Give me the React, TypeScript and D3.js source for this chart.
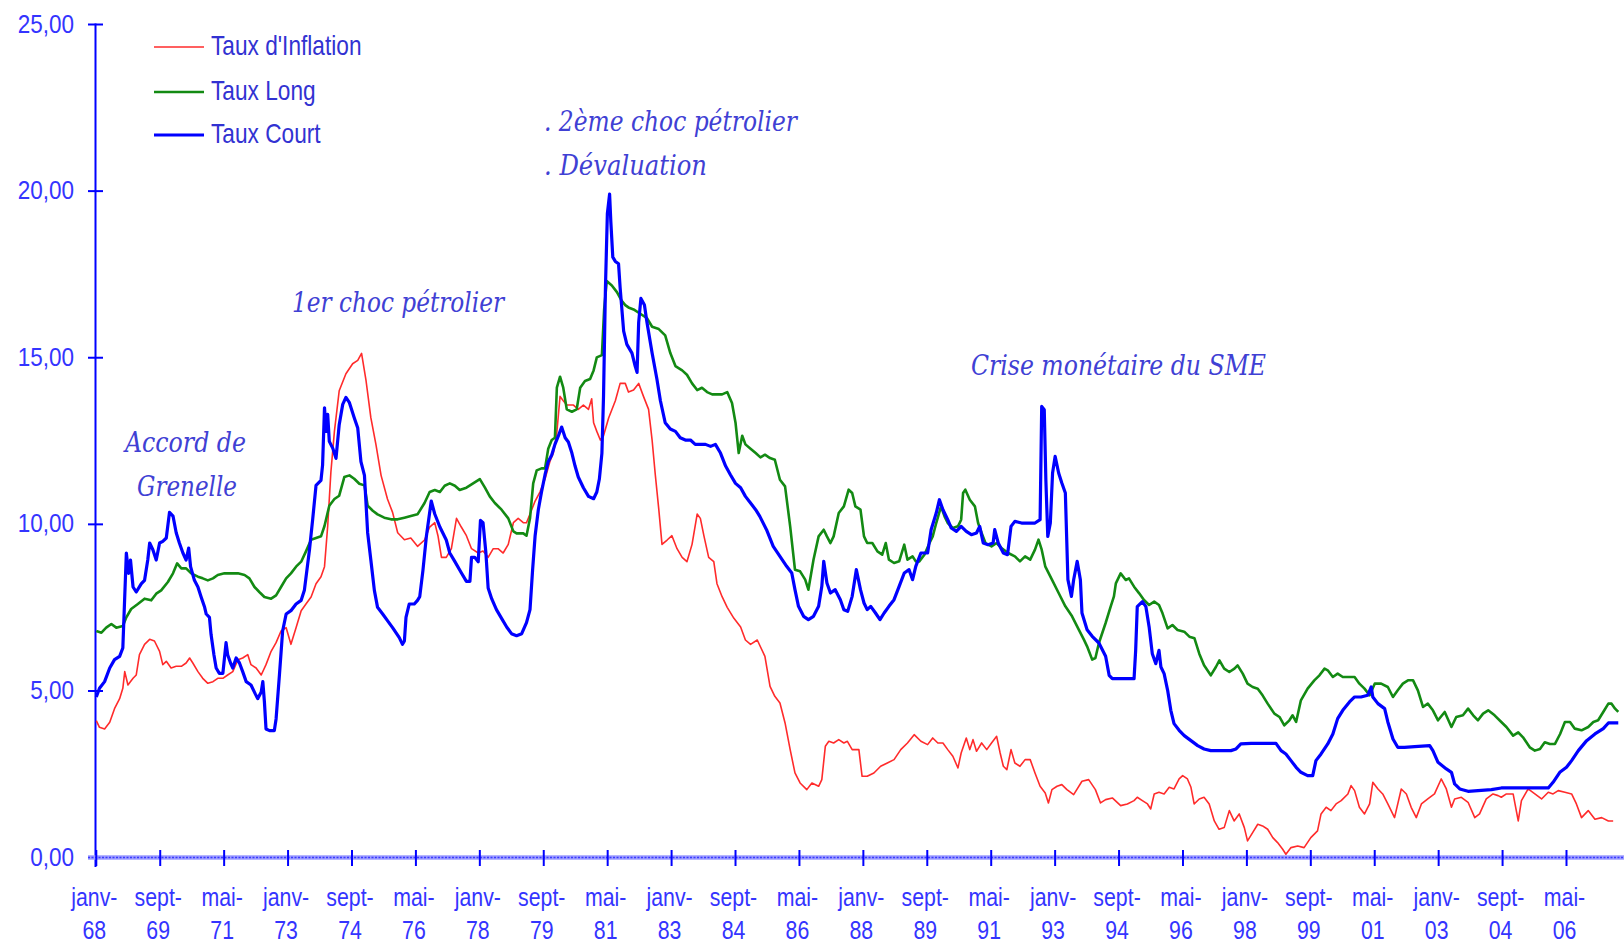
import React from "react";
import * as d3 from "d3";

// x = months since janv. 1968, y = rate in %
const inflationData: [number, number][] = [
  [0,4.11],[1,3.91],[2.6,3.86],[4.2,4.06],[5.7,4.47],[7.3,4.77],[8.3,5.08],[8.9,5.58],[9.9,5.18],[11.5,5.38],[12.5,5.48],[13.5,6.09],[15.1,6.4],[16.7,6.55],[18.2,6.5],[19.8,6.19],[20.8,5.79],[21.9,5.89],[23.4,5.69],[25,5.74],[26.6,5.74],[28.1,5.84],[29.2,5.99],[30.2,5.84],[31.8,5.58],[33.3,5.38],[34.9,5.23],[36.5,5.28],[38,5.38],[39.6,5.38],[41.1,5.48],[42.7,5.58],[44.3,5.94],[45.8,5.99],[47.4,6.09],[48.4,5.79],[50,5.69],[51.6,5.48],[53.1,5.79],[54.7,6.19],[56.25,6.45],[57.8,6.8],[59.4,6.9],[60.9,6.4],[62.5,6.9],[64.1,7.41],[65.6,7.61],[67.2,7.82],[68.75,8.22],[70.3,8.43],[71.4,8.73],[72.4,9.95],[73.4,11.57],[74.5,12.79],[76,14.01],[78.1,14.52],[80.2,14.82],[81.8,14.92],[83,15.13],[84.4,14.31],[85.9,13.2],[87.5,12.39],[89.1,11.47],[91.1,10.76],[92.7,10.36],[94.3,9.75],[96.4,9.54],[98.4,9.59],[100.5,9.34],
  [101.2,9.4],[102.7,9.53],[104.3,9.92],[105.9,10.05],[106.9,9.66],[108,9.01],[109.5,9.01],[111.1,9.27],[112.7,10.18],[114.2,9.92],[115.8,9.66],[117.4,9.27],[119.5,9.14],[121,9.2],[122.6,9.01],[124.2,9.27],[125.7,9.27],[127.3,9.14],[128.9,9.4],[130.5,10.05],[132,10.18],[133.6,10.05],[134.6,10.05],[135.7,10.31],[137.3,10.7],[138.8,10.97],[140.4,11.36],[141.9,11.88],[143,12.14],[144,12.66],[145.1,13.84],[146.1,13.71],[147.2,13.58],[149.3,13.58],[150.8,13.45],[152.4,13.58],[154,13.45],[155,13.77],[155.6,13.05],[156.6,12.79],[157.7,12.53],[158.7,12.66],[160.3,13.19],[162.4,13.71],[163.9,14.23],[165.5,14.23],[166.5,13.97],[168.1,14.03],[169.7,14.23],[171.2,13.84],[172.8,13.45],[173.9,12.53],[174.9,11.49],[176,10.44],[177,9.4],[178.6,9.53],[180.1,9.66],[181.7,9.27],[183.3,9.01],[184.8,8.88],[186.4,9.4],[188,10.31],[189,10.18],[190.1,9.66],[191.6,9.01],[193.2,8.88],[194.2,8.22],[195.8,7.83],[197.4,7.51],[199.5,7.18],[201.6,6.92],[203.1,6.53],[204.7,6.4],[206.8,6.53],
  [209.2,6.04],[210.8,5.14],[212.3,4.84],[213.9,4.64],[215.5,4.04],[217.1,3.24],[218.6,2.54],[220.2,2.24],[222.3,2.04],[223.9,2.24],[226,2.14],[227,2.34],[228.1,3.34],[229.2,3.49],[230.7,3.44],[232.3,3.54],[233.9,3.44],[235,3.49],[236.5,3.24],[238.6,3.24],[239.6,2.44],[241.2,2.44],[243.3,2.54],[245.4,2.74],[247.5,2.84],[249.6,2.94],[251.7,3.24],[253.8,3.44],[255.9,3.69],[258,3.49],[260.1,3.39],[261.7,3.59],[263.3,3.44],[264.9,3.44],[266.4,3.24],[268,3.04],[269.6,2.69],[270.6,3.14],[272.2,3.59],[273.3,3.24],[274.3,3.54],[275.4,3.19],[277,3.44],[278.6,3.24],[280.1,3.44],[281.7,3.64],[282.8,3.14],[283.8,2.74],[284.9,2.64],[286.2,3.24],[287.4,2.84],[289,2.74],[290.6,2.94],[292.2,2.94],[293.7,2.54],[295.3,2.14],[296.9,1.94],[297.9,1.64],[299,2.04],[300.6,2.14],[302.1,2.19],[303.7,2.04],[305.8,1.89],[308.4,2.29],[310.5,2.34],[312.6,2.04],[314.2,1.64],[315.8,1.74],[317.9,1.79],
  [320.5,1.56],[322.6,1.61],[324.7,1.71],[325.7,1.81],[327.3,1.71],[328.9,1.61],[329.9,1.46],[331,1.91],[332.5,1.96],[334.1,1.91],[335.7,2.11],[337.2,2.06],[338.8,2.36],[339.9,2.46],[341.4,2.36],[342.5,2.11],[343.5,1.61],[345.1,1.76],[346.6,1.81],[348.2,1.61],[349.8,1.1],[351.3,0.85],[352.9,0.9],[354.5,1.41],[356,1.1],[357.6,1.31],[359.2,0.9],[360.2,0.5],[361.8,0.75],[363.4,1.0],[364.9,0.95],[366.5,0.85],[368.1,0.6],[369.6,0.45],[371.2,0.25],[372.2,0.1],[373.8,0.3],[375.9,0.35],[377.9,0.3],[380,0.6],[382.1,0.8],[383.2,1.31],[384.8,1.51],[386.3,1.41],[387.9,1.61],[389.5,1.71],[391.6,1.91],[392.6,2.16],[393.7,2.01],[395.2,1.51],[396.8,1.31],[398.4,1.61],[399.4,2.26],[401,2.06],[402.5,1.91],[404.1,1.61],[406.2,1.2],[408.3,2.06],[409.9,1.91],[411.4,1.51],[413,1.2],[414.6,1.61],[416.6,1.76],[418.7,1.91],[420.8,2.36],[422.4,2.06],[424,1.51],[425,1.76],[427.1,1.81],[429.2,1.66],[431.3,1.2],[432.8,1.31],[434.9,1.76],[437,1.91],[438.6,1.86],[439.6,1.81],[441.2,1.91],[443.3,1.91],[444.9,1.1],[445.9,1.71],[448,2.06],[450.1,1.91],[452.2,1.76],[454.3,1.96],[455.8,1.91],[457.4,2.01],[459.5,1.96],[461.6,1.91],[463.1,1.61],[464.7,1.2],[466.8,1.41],[468.9,1.15],[471,1.2],[473.1,1.1],[474.6,1.1]
];

const tauxLongData: [number, number][] = [
  [0,6.8],[1.6,6.75],[3.1,6.9],[4.7,7.01],[6.25,6.9],[8.3,6.95],[9.4,7.21],[10.9,7.46],[13,7.61],[15.1,7.77],[17.2,7.72],[18.75,7.92],[20.3,8.02],[22.4,8.27],[24,8.53],[25.3,8.83],[26.6,8.68],[28.1,8.68],[29.7,8.53],[31.8,8.43],[33.3,8.38],[34.9,8.32],[36.5,8.38],[38,8.48],[40.1,8.53],[42.2,8.53],[44.3,8.53],[46.4,8.48],[47.9,8.38],[49.5,8.12],[51,7.97],[52.6,7.82],[54.7,7.77],[56.25,7.87],[57.8,8.12],[59.4,8.38],[60.9,8.53],[62.5,8.73],[64.1,8.88],[65.6,9.19],[67.2,9.54],[68.75,9.59],[70.3,9.64],[71.4,9.95],[72.9,10.56],[74.5,10.76],[76,10.86],[77.6,11.42],[79.2,11.47],[80.7,11.37],[82.3,11.22],[83.9,11.17],[84.9,10.56],[86.5,10.41],[88,10.3],[90.1,10.2],[92.2,10.15],[94.3,10.15],[96.4,10.2],[98.4,10.25],[100.5,10.3],
  [102.7,10.64],[104.3,10.97],[105.9,11.03],[107.5,10.97],[109,11.16],[110.6,11.23],[112.2,11.16],[113.7,11.03],[115.8,11.1],[117.9,11.23],[120,11.36],[121.6,11.1],[123.1,10.84],[124.7,10.64],[126.8,10.44],[128.9,10.18],[130.5,9.79],[131.5,9.73],[133.6,9.73],[134.6,9.66],[135.7,10.18],[136.7,11.23],[137.8,11.62],[139.3,11.68],[140.4,11.68],[141.4,12.27],[142.5,12.53],[143.5,12.6],[144.1,14.1],[145.1,14.43],[146.1,14.1],[147.2,13.45],[148.8,13.38],[150.3,13.45],[151.4,14.1],[152.9,14.3],[154.5,14.36],[155.6,14.62],[156.6,15.01],[158.2,15.08],[158.9,16.45],[159.7,17.3],[161.3,17.17],[162.9,16.97],[164.4,16.71],[165.5,16.58],[166.5,16.51],[168.1,16.45],[170.2,16.32],[172.3,16.19],[173.9,15.93],[176,15.86],[178,15.67],[179.6,15.14],[181.2,14.75],[183.3,14.62],[184.8,14.49],[186.4,14.23],[188,14.03],[189.5,14.1],[191.1,13.97],[192.7,13.9],[194.2,13.9],[195.8,13.9],[197.4,13.97],[198.9,13.64],[200,13.05],[201,12.14],[202.1,12.66],[203.1,12.4],[204.7,12.27],[206.3,12.14],[207.8,12.01],
  [209.2,12.09],[210.8,11.99],[212.3,11.94],[213.9,11.34],[215.5,11.14],[217.1,9.94],[218.6,8.64],[220.2,8.59],[221.8,8.34],[222.8,8.04],[224.4,8.94],[226,9.64],[227.6,9.84],[228.6,9.64],[229.7,9.44],[230.7,9.64],[232.3,10.34],[233.9,10.54],[235.4,11.04],[236.5,10.94],[237.5,10.54],[239.1,10.44],[240.2,9.64],[241.2,9.44],[242.8,9.44],[244.4,9.19],[245.9,9.09],[247,9.44],[248,8.94],[249.6,8.84],[251.2,8.89],[252.8,9.39],[253.8,8.94],[255.4,9.04],[256.4,8.89],[257.5,8.89],[259.1,9.09],[260.7,9.44],[261.7,9.64],[262.8,10.04],[264.3,10.54],[265.4,10.24],[266.4,10.04],[268,9.89],[269.6,9.94],[270.6,10.14],[271.2,10.94],[271.9,11.04],[273.3,10.74],[274.9,10.54],[275.9,10.04],[277,9.74],[278.2,9.44],[280.1,9.34],[281.7,9.44],[283.2,9.29],[285.3,9.14],[287.4,9.04],[289,8.89],[290.6,9.04],[292.2,8.94],[293.7,9.24],[294.8,9.54],[295.8,9.24],[296.9,8.74],[299,8.34],[301.1,7.94],[303.2,7.54],[305.3,7.24],[307.4,6.84],[309,6.54],[310,6.34],[311.6,5.94],[312.6,5.99],[313.7,6.44],[315.8,7.04],[317.4,7.54],[318.4,7.84],
  [319,8.23],[320.5,8.53],[322.1,8.33],[323.1,8.38],[324.7,8.13],[326.3,7.93],[327.8,7.73],[329.4,7.58],[331,7.68],[332.5,7.58],[333.6,7.33],[335.2,6.88],[336.7,6.98],[338.3,6.83],[340.4,6.78],[342,6.63],[343.6,6.58],[345.1,6.12],[346.6,5.77],[348.7,5.47],[350.3,5.72],[351.4,5.92],[352.9,5.67],[354.5,5.57],[356.1,5.67],[357.1,5.77],[358.7,5.52],[360.2,5.22],[361.8,5.12],[363.4,5.07],[364.9,4.87],[366.5,4.62],[368.6,4.32],[370.2,4.22],[371.7,3.97],[373.3,4.12],[374.3,4.27],[375.4,4.07],[376.9,4.72],[379,5.07],[381.1,5.32],[382.7,5.47],[384.3,5.67],[385.3,5.62],[386.9,5.42],[388.4,5.52],[390,5.42],[392.1,5.42],[393.7,5.42],[395.2,5.22],[396.8,5.07],[398.4,4.87],[400,5.22],[402,5.22],[404.1,5.12],[405.7,4.82],[407.2,5.02],[408.8,5.22],[410.4,5.32],[412,5.32],[413.5,5.02],[415.1,4.52],[416.6,4.62],[418.2,4.42],[419.8,4.12],[421.9,4.37],[424,3.92],[425.5,4.22],[427.6,4.27],[429.2,4.47],[430.8,4.27],[432.3,4.12],[433.9,4.32],[435.5,4.42],[437.5,4.27],[439.6,4.07],[441.2,3.92],[443.3,3.66],[444.9,3.76],[446.4,3.61],[448.5,3.31],[450.1,3.21],[451.7,3.26],[453.2,3.46],[454.8,3.41],[456.4,3.41],[458,3.71],[459.5,4.07],[461.1,4.07],[462.6,3.87],[464.7,3.82],[466.8,3.92],[468.4,4.07],[469.9,4.12],[471.5,4.37],[473.1,4.62],[474.1,4.62],[475.2,4.47],[476.2,4.37]
];

const tauxCourtData: [number, number][] = [
  [0,4.82],[1,5.08],[2.6,5.28],[4.2,5.69],[5.7,5.94],[7.3,6.04],[8.3,6.29],[9.4,9.14],[10.1,8.53],[10.7,8.93],[11.5,8.12],[12.5,7.97],[14.1,8.22],[15.1,8.32],[16.1,8.93],[16.7,9.44],[17.7,9.24],[18.75,8.93],[19.8,9.44],[20.8,9.49],[21.9,9.59],[22.9,10.36],[24,10.25],[25,9.75],[26,9.44],[27.1,9.14],[28.1,8.93],[28.9,9.29],[29.5,8.73],[30.7,8.32],[31.8,8.12],[32.8,7.82],[33.9,7.51],[34.4,7.31],[35.4,7.21],[35.9,6.7],[36.8,6.09],[37.5,5.69],[38.5,5.53],[39.6,5.53],[40.6,6.45],[41.1,6.09],[42,5.84],[42.7,5.69],[43.75,5.99],[44.8,5.84],[45.8,5.58],[46.9,5.28],[48.4,5.18],[49.7,4.92],[50.5,4.77],[51.6,4.97],[52.1,5.28],[52.6,4.67],[53.1,3.86],[54.2,3.81],[55.7,3.81],[56.25,4.16],[57.3,5.48],[58.3,6.8],[59.4,7.31],[60.9,7.41],[62.5,7.61],[64.1,7.72],[65.1,8.02],[66.7,9.24],[67.7,10.15],[68.75,11.17],[70.3,11.32],[70.8,11.78],[71.4,13.5],[71.9,12.79],[72.4,13.3],[72.9,12.49],[74,12.28],[75,11.98],[76,12.99],[77.1,13.6],[78.1,13.81],[79.2,13.65],[80.7,13.2],[81.8,12.89],[82.8,11.88],[83.9,11.47],[84.9,9.75],[85.9,8.93],[87,8.02],[88,7.51],[89.6,7.31],[91.1,7.11],[92.7,6.9],[93.75,6.75],[94.8,6.6],[95.8,6.4],[96.4,6.5],[96.9,7.21],[97.9,7.61],[99.5,7.61],[100.5,7.72],
  [101.2,7.83],[102.2,8.62],[103.3,9.66],[104.8,10.7],[105.9,10.31],[107.5,9.92],[109.5,9.53],[110.6,9.14],[112.2,8.88],[114.2,8.55],[115.8,8.29],[116.9,8.29],[117.4,9.01],[118.4,9.01],[119.5,8.88],[120.2,10.12],[121,10.05],[121.9,9.14],[122.6,8.09],[123.7,7.77],[125.2,7.44],[126.8,7.18],[128.4,6.92],[129.9,6.72],[131.5,6.66],[133.1,6.72],[134.6,7.05],[135.7,7.44],[136.5,8.62],[137.3,9.66],[138.3,10.44],[139.3,10.97],[140.4,11.49],[141.4,11.88],[142.5,12.08],[143.5,12.4],[144.6,12.66],[145.6,12.92],[146.7,12.6],[147.7,12.47],[148.8,12.14],[149.8,11.75],[150.8,11.42],[152.4,11.1],[154,10.84],[155.6,10.77],[156.6,10.97],[157.4,11.36],[158.2,12.14],[158.7,13.84],[159.3,17.1],[159.9,19.32],[160.6,19.91],[161,19.06],[161.6,18.02],[162.4,17.89],[163.4,17.82],[163.9,17.1],[165,15.8],[166,15.4],[167.6,15.14],[168.6,14.75],[169.2,14.56],[169.7,16.06],[170.4,16.78],[171.5,16.58],[172.3,16.06],[173.9,15.14],[175.4,14.36],[176.5,13.71],[178,13.05],[179.6,12.86],[181.2,12.79],[182.7,12.6],[184.3,12.53],[185.9,12.53],[187.4,12.4],[189,12.4],[190.6,12.4],[192.2,12.34],[193.7,12.4],[195.3,12.14],[196.9,11.75],[198.4,11.49],[200,11.23],[201.6,11.1],[203.1,10.84],[204.7,10.64],[206.3,10.44],
  [207.6,10.24],[209.7,9.84],[211.8,9.34],[213.9,9.04],[216,8.74],[217.6,8.54],[218.6,8.04],[219.7,7.54],[221.3,7.24],[222.8,7.14],[224.4,7.24],[226,7.54],[227,8.14],[227.6,8.89],[228.6,8.24],[229.7,7.94],[231.2,8.04],[232.8,7.74],[233.9,7.44],[235.1,7.39],[236.5,7.84],[237.8,8.64],[239.1,8.04],[240.2,7.64],[241.2,7.44],[242.3,7.54],[243.8,7.34],[245.2,7.14],[246.5,7.34],[248,7.54],[249.6,7.74],[251.2,8.14],[252.8,8.54],[254.3,8.64],[255.4,8.34],[256.4,8.74],[258,9.14],[260.1,9.14],[261.2,9.84],[262.8,10.34],[263.8,10.74],[264.9,10.44],[266.4,10.14],[267.5,9.89],[269.1,9.79],[270.6,9.94],[272.2,9.79],[273.8,9.69],[275.4,9.74],[276.4,9.94],[277.5,9.44],[279,9.39],[280.6,9.44],[281.1,9.84],[282.2,9.44],[283.8,9.14],[285.1,9.09],[286.2,9.94],[287.4,10.09],[289.5,10.04],[291.6,10.04],[293.7,10.04],[295.3,10.14],[295.8,13.54],[296.6,13.44],[297.1,11.34],[297.7,9.64],[298.5,10.04],[299.2,11.54],[300,12.04],[301.1,11.54],[302.1,11.24],[303.2,10.94],[304,8.34],[305.1,7.84],[305.8,8.34],[306.9,8.89],[307.9,8.34],[308.4,7.34],[310,6.84],[311.6,6.64],[313.7,6.44],[315.8,6.04],
  [316.9,5.47],[317.9,5.37],[320.5,5.37],[322.6,5.37],[324.7,5.37],[325.2,6.22],[325.7,7.53],[327.3,7.68],[328.4,7.53],[329.4,6.93],[330.4,6.12],[331.5,5.82],[332.5,6.22],[333.1,5.72],[334.1,5.52],[335.2,5.02],[336.2,4.42],[337.2,4.02],[338.8,3.82],[340.4,3.66],[342.5,3.51],[344.6,3.36],[346.6,3.26],[348.7,3.21],[351.9,3.21],[355,3.21],[356.6,3.26],[358.1,3.41],[361.3,3.43],[365.5,3.43],[369.1,3.43],[370.7,3.21],[372.2,3.11],[373.8,2.91],[375.4,2.71],[376.9,2.56],[379,2.46],[380.6,2.46],[381.6,2.91],[383.2,3.11],[385.3,3.41],[386.9,3.71],[388.4,4.17],[390,4.42],[392.1,4.67],[393.7,4.82],[395.7,4.82],[397.8,4.87],[398.9,5.12],[399.4,4.82],[401,4.62],[403.1,4.47],[404.1,4.07],[405.7,3.56],[407.2,3.31],[409.3,3.31],[412.5,3.33],[417.2,3.36],[418.2,3.21],[419.8,2.86],[422.4,2.66],[424,2.56],[425,2.21],[426.6,2.06],[429.2,1.99],[432.3,2.01],[436.5,2.04],[439.6,2.09],[444.9,2.09],[450.1,2.09],[454.3,2.09],[455.8,2.26],[457.9,2.56],[460,2.71],[461.6,2.91],[463.7,3.21],[466.3,3.51],[468.9,3.71],[471.5,3.87],[473.1,4.04],[476.2,4.04]
];

const tickMonths = ["janv-","sept-","mai-","janv-","sept-","mai-","janv-","sept-","mai-","janv-","sept-","mai-","janv-","sept-","mai-","janv-","sept-","mai-","janv-","sept-","mai-","janv-","sept-","mai-"];
const tickYears = ["68","69","71","73","74","76","78","79","81","83","84","86","88","89","91","93","94","96","98","99","01","03","04","06"];
const yTicks = [0, 5, 10, 15, 20, 25];
const yTickLabels = ["0,00","5,00","10,00","15,00","20,00","25,00"];

const seriesNames = ["Taux d'Inflation", "Taux Long", "Taux Court"];
const seriesColors = ["#ff2b2b", "#138a13", "#0000ff"];
const seriesWidths = [1.6, 2.6, 3.2];

const annotations = [
  { text: "Accord de", x: 125, y: 452, w: 121 },
  { text: "Grenelle", x: 137, y: 496, w: 100 },
  { text: "1er choc pétrolier", x: 292, y: 312, w: 212 },
  { text: ". 2ème choc pétrolier", x: 544, y: 131, w: 253 },
  { text: ". Dévaluation", x: 544, y: 175, w: 163 },
  { text: "Crise monétaire du SME", x: 971, y: 375, w: 295 },
];

export default function App() {
  const W = 1624, H = 948;
  const x = d3.scaleLinear().domain([0, 460]).range([96.3, 1566.5]);
  const y = d3.scaleLinear().domain([0, 25]).range([857.6, 24.5]);
  const line = d3.line<[number, number]>().x(d => x(d[0])).y(d => y(d[1]));
  const series = [inflationData, tauxLongData, tauxCourtData];
  const xTicks = d3.range(0, 461, 20);
  const axisBlue = "#0000ff";
  const labelBlue = "#3434ff";
  const sans = "'Liberation Sans', Arial, sans-serif";

  return (
    <svg width={W} height={H} style={{ position: "absolute", left: 0, top: 0, background: "#fff" }}>
      {/* y axis */}
      <line x1={95.5} x2={95.5} y1={y(25) - 1} y2={867} stroke={axisBlue} strokeWidth={2} />
      {yTicks.map((t, i) => (
        <g key={"yt" + i}>
          <line x1={88} x2={103} y1={y(t)} y2={y(t)} stroke={axisBlue} strokeWidth={2} />
          <text transform={`translate(74,${y(t) + 8}) scale(0.9,1)`} textAnchor="end" fontSize={25} fontFamily={sans} fill={labelBlue}>{yTickLabels[i]}</text>
        </g>
      ))}
      {/* x axis band */}
      <line x1={88} x2={W} y1={857.6} y2={857.6} stroke="#9c9cff" strokeWidth={4.5} />
      <line x1={88} x2={W} y1={857.6} y2={857.6} stroke="#3a3aff" strokeWidth={1.5} strokeDasharray="2 1.5" />
      {xTicks.map((t, i) => (
        <g key={"xt" + i}>
          <line x1={x(t)} x2={x(t)} y1={850} y2={866} stroke={axisBlue} strokeWidth={2} />
          <text transform={`translate(${x(t) - 2},906) scale(0.82,1)`} textAnchor="middle" fontSize={26} fontFamily={sans} fill={labelBlue}>{tickMonths[i]}</text>
          <text transform={`translate(${x(t) - 2},939) scale(0.82,1)`} textAnchor="middle" fontSize={26} fontFamily={sans} fill={labelBlue}>{tickYears[i]}</text>
        </g>
      ))}
      {/* series */}
      {series.map((s, i) => (
        <path key={"s" + i} d={line(s) || ""} fill="none" stroke={seriesColors[i]} strokeWidth={seriesWidths[i]} strokeLinejoin="round" />
      ))}
      {/* legend */}
      {seriesNames.map((n, i) => {
        const ly = [47, 92, 135][i];
        return (
          <g key={"lg" + i}>
            <line x1={154} x2={204} y1={ly} y2={ly} stroke={seriesColors[i]} strokeWidth={seriesWidths[i]} />
            <text transform={`translate(211,${ly + 8}) scale(0.84,1)`} fontSize={27} fontFamily={sans} fill="#3232d2">{n}</text>
          </g>
        );
      })}
      {/* annotations */}
      {annotations.map((a, i) => (
        <text key={"an" + i} x={a.x} y={a.y} textLength={a.w} lengthAdjust="spacingAndGlyphs" fontSize={27} fontStyle="italic" fontFamily="'DejaVu Serif', serif" fill="#4040d4">{a.text}</text>
      ))}
    </svg>
  );
}
